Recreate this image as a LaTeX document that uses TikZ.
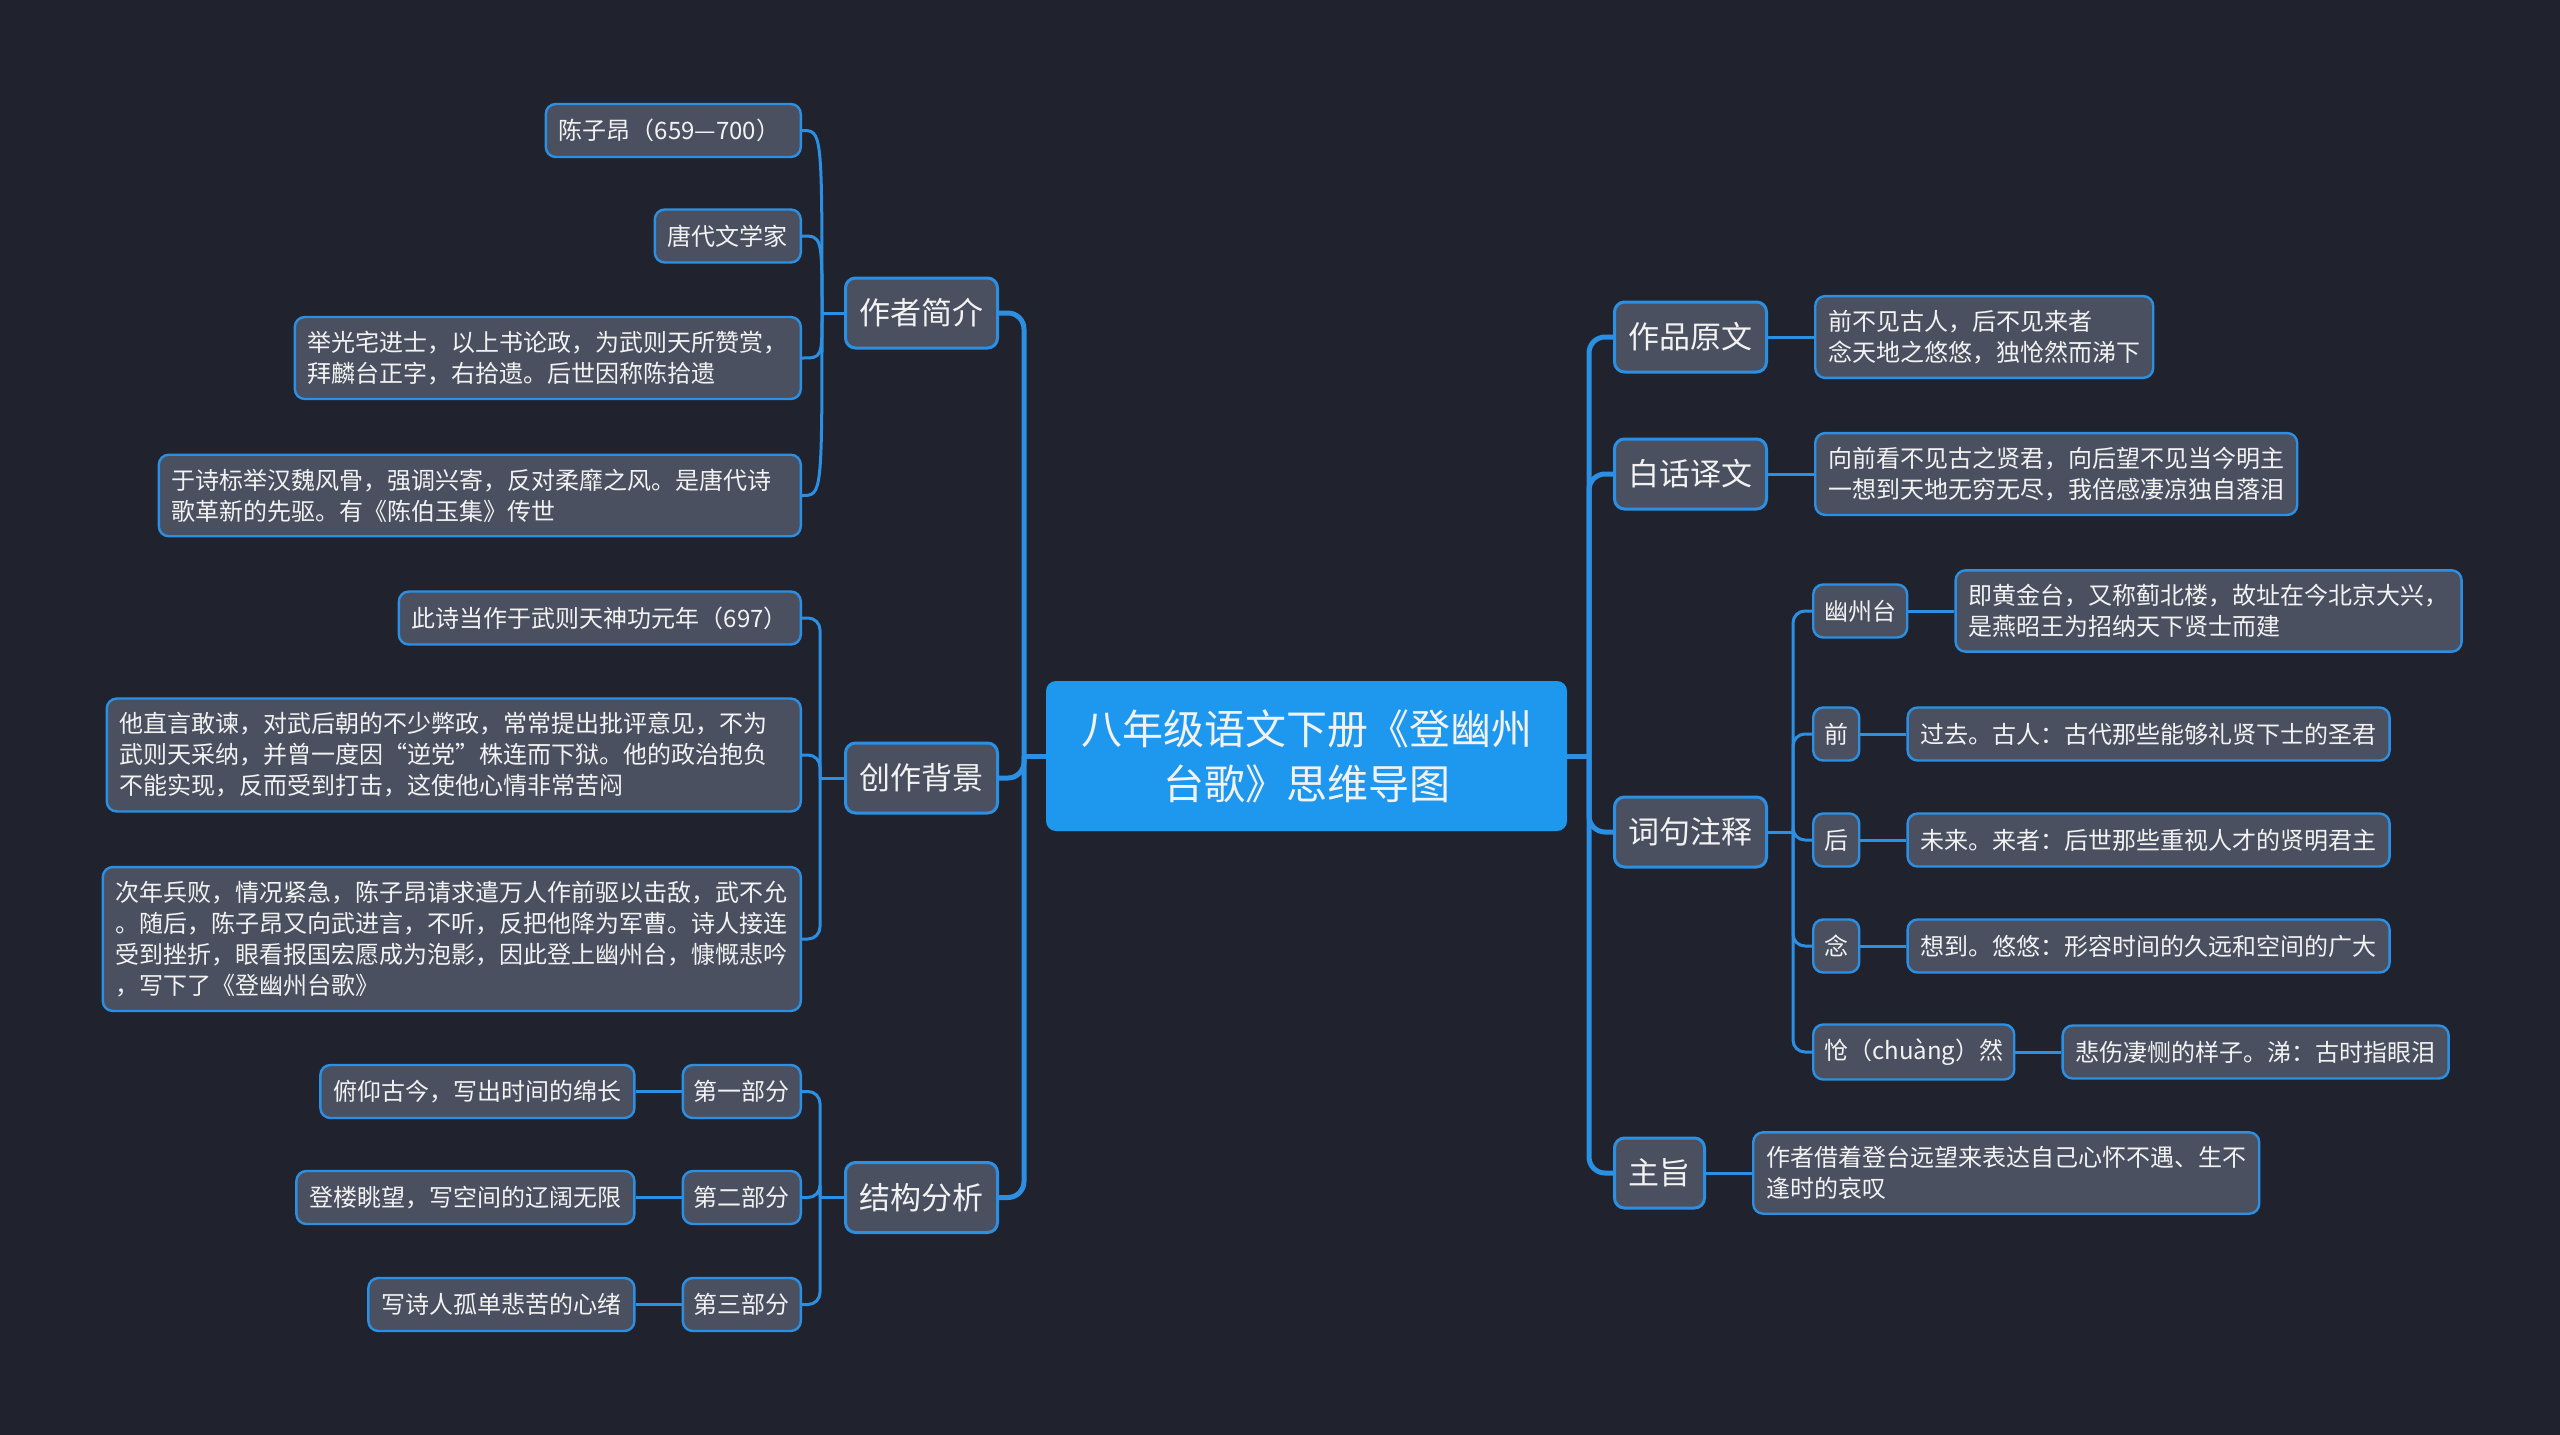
\documentclass[tikz,border=0pt]{standalone}
\usepackage{fontspec}
\setmainfont{Noto Sans CJK SC}
\usepackage{xcolor}
\usepackage{tikz}
\usetikzlibrary{positioning}

\definecolor{bgnavy}{HTML}{20232E}
\definecolor{boxgray}{HTML}{4A5060}
\definecolor{edgeblue}{HTML}{2B8FE3}
\definecolor{rootblue}{HTML}{1E98EE}
\definecolor{inkwhite}{HTML}{F2F2F2}

\begin{document}
\begin{tikzpicture}[
x=0.5pt, y=-0.5pt,
node distance=23pt,
root/.style={fill=rootblue, rounded corners=5pt, align=center, text=inkwhite, minimum width=260.5pt, minimum height=75pt, font=\fontsize{20.5}{27.5}\selectfont},
topic/.style={draw=edgeblue, line width=1.5pt, fill=boxgray, rounded corners=5pt, text=inkwhite, inner xsep=7pt, minimum height=35pt, font=\fontsize{15.5}{19}\selectfont},
sub/.style={draw=edgeblue, line width=1.2pt, fill=boxgray, rounded corners=5pt, text=inkwhite, inner xsep=5.5pt, inner ysep=7pt, minimum height=26.5pt, align=left, font=\fontsize{12}{15.5}\selectfont},
leaf/.style={sub, inner xsep=6.5pt},
link/.style={draw=edgeblue, line width=2.5pt, rounded corners=8pt},
twig/.style={draw=edgeblue, line width=1.5pt, rounded corners=6pt}
]
\fill[bgnavy] (0,0) rectangle (2560,1435);
\useasboundingbox (0,0) rectangle (2560,1435);

% centre
\node[root] (poem) at (1306.5,756) {八年级语文下册《登幽州\\台歌》思维导图};

% main topics
\node[topic, anchor=east] (author) at (999,313) {作者简介};
\node[topic, anchor=east] (backdrop) at (999,778) {创作背景};
\node[topic, anchor=east] (layout) at (999,1197.5) {结构分析};
\node[topic, anchor=west] (original) at (1613,337) {作品原文};
\node[topic, anchor=west] (vernacular) at (1613,474) {白话译文};
\node[topic, anchor=west] (notes) at (1613,832) {词句注释};
\node[topic, anchor=west] (theme) at (1613,1173) {主旨};

% author
\node[leaf, anchor=east, text width=114.5pt] (name) at (802,130.5) {陈子昂（659—700）};
\node[leaf, anchor=east] (era) at (802,236) {唐代文学家};
\node[leaf, anchor=east] (career) at (802,358) {举光宅进士，以上书论政，为武则天所赞赏，\\拜麟台正字，右拾遗。后世因称陈拾遗};
\node[leaf, anchor=east, text width=308pt] (poetics) at (802,495.5) {于诗标举汉魏风骨，强调兴寄，反对柔靡之风。是唐代诗\\歌革新的先驱。有《陈伯玉集》传世};

% backdrop
\node[leaf, anchor=east] (date) at (802,618) {此诗当作于武则天神功元年（697）};
\node[leaf, anchor=east, text width=334pt] (remonstrance) at (802,755) {他直言敢谏，对武后朝的不少弊政，常常提出批评意见，不为\\武则天采纳，并曾一度因“逆党”株连而下狱。他的政治抱负\\不能实现，反而受到打击，这使他心情非常苦闷};
\node[leaf, anchor=east] (defeat) at (802,939) {次年兵败，情况紧急，陈子昂请求遣万人作前驱以击敌，武不允\\。随后，陈子昂又向武进言，不听，反把他降为军曹。诗人接连\\受到挫折，眼看报国宏愿成为泡影，因此登上幽州台，慷慨悲吟\\，写下了《登幽州台歌》};

% layout
\node[sub, anchor=east] (partone) at (802,1091.5) {第一部分};
\node[sub, anchor=east] (parttwo) at (802,1197.5) {第二部分};
\node[sub, anchor=east] (partthree) at (802,1304.5) {第三部分};
\node[leaf, left=of partone] (time) {俯仰古今，写出时间的绵长};
\node[leaf, left=of parttwo] (space) {登楼眺望，写空间的辽阔无限};
\node[leaf, left=of partthree] (mood) {写诗人孤单悲苦的心绪};

% original and vernacular
\node[leaf, right=of original] (verse) {前不见古人，后不见来者\\念天地之悠悠，独怆然而涕下};
\node[leaf, right=of vernacular] (prose) {向前看不见古之贤君，向后望不见当今明主\\一想到天地无穷无尽，我倍感凄凉独自落泪};

% notes
\node[sub, anchor=west] (terrace) at (1812,611) {幽州台};
\node[sub, anchor=west] (before) at (1812,734) {前};
\node[sub, anchor=west] (after) at (1812,840) {后};
\node[sub, anchor=west] (ponder) at (1812,946) {念};
\node[sub, anchor=west] (grief) at (1812,1052) {怆（chuàng）然};
\node[leaf, right=of terrace] (terracetext) {即黄金台，又称蓟北楼，故址在今北京大兴，\\是燕昭王为招纳天下贤士而建};
\node[leaf, right=of before] (beforetext) {过去。古人：古代那些能够礼贤下士的圣君};
\node[leaf, right=of after] (aftertext) {未来。来者：后世那些重视人才的贤明君主};
\node[leaf, right=of ponder] (pondertext) {想到。悠悠：形容时间的久远和空间的广大};
\node[leaf, right=of grief] (grieftext) {悲伤凄恻的样子。涕：古时指眼泪};

% theme
\node[leaf, right=of theme] (themetext) {作者借着登台远望来表达自己心怀不遇、生不\\逢时的哀叹};

% hubs
\coordinate (lhub) at (1024,756);
\coordinate (rhub) at (1589,756);
\coordinate (authorhub) at ([xshift=-11pt]author.west);
\coordinate (backdrophub) at ([xshift=-12pt]backdrop.west);
\coordinate (layouthub) at ([xshift=-12pt]layout.west);
\coordinate (noteshub) at ([xshift=12.5pt]notes.east);

% level one
\draw[link] (poem.west) -- (lhub);
\draw[link] (lhub) |- (author.east);
\draw[link] (lhub) |- (backdrop.east);
\draw[link] (lhub) |- (layout.east);
\draw[link] (poem.east) -- (rhub);
\draw[link] (rhub) |- (original.west);
\draw[link] (rhub) |- (vernacular.west);
\draw[link] (rhub) |- (notes.west);
\draw[link] (rhub) |- (theme.west);

% level two
\draw[twig] (author.west) -- (authorhub);
\draw[twig] (authorhub) .. controls (authorhub |- name) .. (name.east);
\draw[twig] (authorhub) .. controls (authorhub |- era) .. (era.east);
\draw[twig] (authorhub) .. controls (authorhub |- career) .. (career.east);
\draw[twig] (authorhub) .. controls (authorhub |- poetics) .. (poetics.east);
\draw[twig] (backdrop.west) -- (backdrophub);
\draw[twig] (backdrophub) |- (date.east);
\draw[twig] (backdrophub) |- (remonstrance.east);
\draw[twig] (backdrophub) |- (defeat.east);
\draw[twig] (layout.west) -- (layouthub);
\draw[twig] (layouthub) |- (partone.east);
\draw[twig] (layouthub) |- (parttwo.east);
\draw[twig] (layouthub) |- (partthree.east);
\draw[twig] (partone.west) -- (time.east);
\draw[twig] (parttwo.west) -- (space.east);
\draw[twig] (partthree.west) -- (mood.east);
\draw[twig] (original.east) -- (verse.west);
\draw[twig] (vernacular.east) -- (prose.west);
\draw[twig] (notes.east) -- (noteshub);
\draw[twig] (noteshub) |- (terrace.west);
\draw[twig] (noteshub) |- (before.west);
\draw[twig] (noteshub) |- (after.west);
\draw[twig] (noteshub) |- (ponder.west);
\draw[twig] (noteshub) |- (grief.west);
\draw[twig] (terrace.east) -- (terracetext.west);
\draw[twig] (before.east) -- (beforetext.west);
\draw[twig] (after.east) -- (aftertext.west);
\draw[twig] (ponder.east) -- (pondertext.west);
\draw[twig] (grief.east) -- (grieftext.west);
\draw[twig] (theme.east) -- (themetext.west);
\end{tikzpicture}
\end{document}
